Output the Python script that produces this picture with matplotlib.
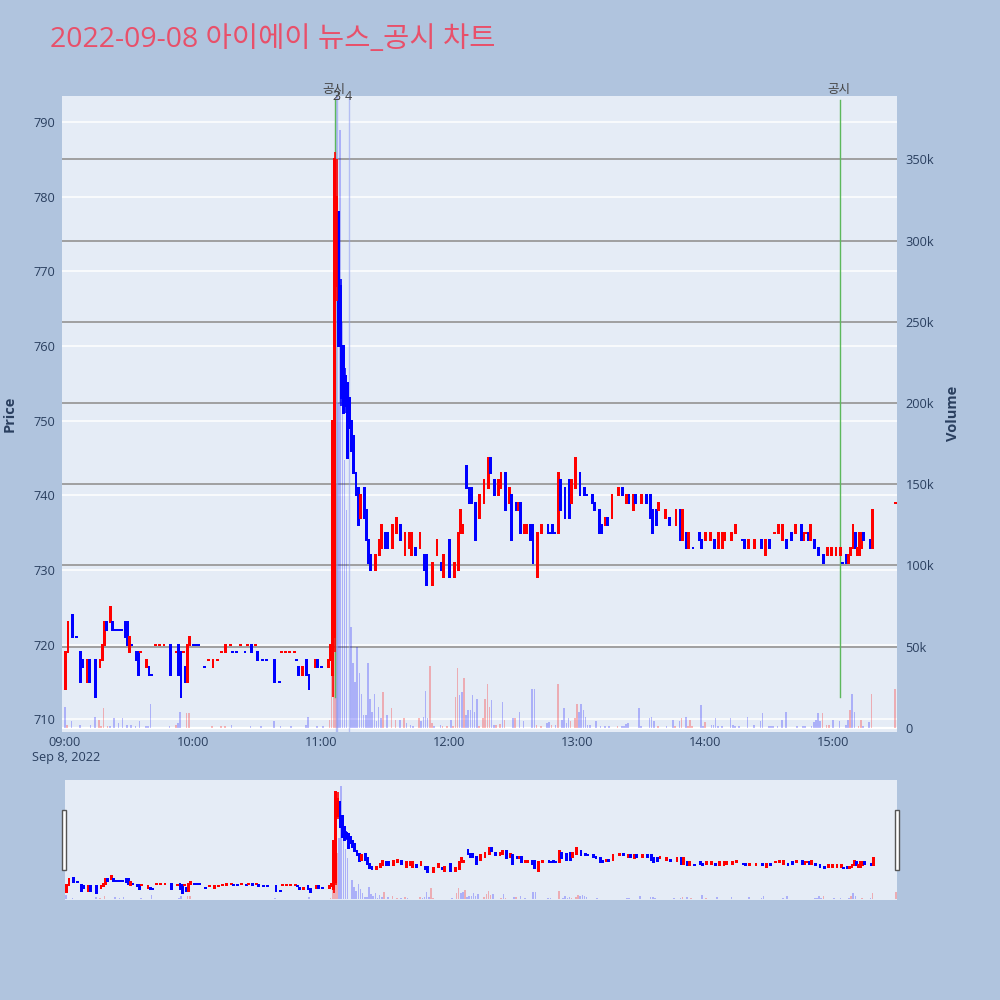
import matplotlib
matplotlib.use('Agg')
import matplotlib.pyplot as plt
from matplotlib.patches import Rectangle
from matplotlib.transforms import blended_transform_factory
import numpy as np

plt.rcParams['font.family'] = ['Open Sans', 'Noto Sans CJK KR', 'DejaVu Sans']

# ---------------- data ----------------
title = "2022-09-08 아이에이 뉴스_공시 차트"
date_label = "Sep 8, 2022"
time_tick_minutes = [0, 60, 120, 180, 240, 300, 360]
time_tick_labels = ["09:00", "10:00", "11:00", "12:00", "13:00", "14:00", "15:00"]
price_ticks = [710, 720, 730, 740, 750, 760, 770, 780, 790]
volume_ticks_k = [0, 50, 100, 150, 200, 250, 300, 350]
volume_tick_labels = ["0", "50k", "100k", "150k", "200k", "250k", "300k", "350k"]

# minutes after 09:00
minutes = [0, 1, 3, 5, 7, 8, 10, 11, 14, 16,
           17, 18, 19, 21, 22, 23, 24, 25, 26, 28,
           29, 30, 31, 33, 34, 35, 38, 39, 40, 42,
           44, 46, 49, 52, 53, 54, 55, 56, 57, 58,
           60, 61, 62, 65, 67, 69, 71, 73, 75, 77,
           78, 80, 82, 84, 85, 87, 89, 90, 92, 94,
           98, 100, 101, 103, 105, 107, 108, 109, 111, 113,
           114, 117, 118, 120, 123, 124, 125, 126, 127, 128,
           129, 130, 131, 132, 133, 134, 135, 136, 137, 138,
           140, 141, 142, 143, 145, 147, 148, 150, 151, 153,
           155, 157, 159, 161, 162, 164, 166, 168, 169, 172,
           174, 176, 177, 180, 182, 184, 185, 186, 188, 189,
           190, 192, 194, 196, 198, 199, 201, 203, 204, 206,
           208, 209, 211, 212, 213, 215, 216, 218, 219, 221,
           223, 226, 227, 228, 229, 231, 232, 234, 236, 237,
           239, 241, 243, 244, 247, 248, 250, 251, 253, 254,
           256, 259, 261, 263, 264, 266, 267, 270, 272, 274,
           275, 277, 278, 281, 283, 286, 288, 289, 291, 292,
           294, 297, 298, 300, 302, 304, 306, 308, 309, 312,
           314, 317, 318, 320, 323, 326, 328, 330, 332, 334,
           336, 338, 340, 342, 345, 346, 347, 348, 349, 351,
           353, 355, 357, 359, 361, 363, 364, 366, 367, 368,
           369, 370, 371, 372, 373, 374, 377, 378, 389]

opens = [714, 719, 724, 721, 719, 718, 715, 718, 718, 717,
         718, 720, 723, 723, 723, 722, 722, 722, 722, 723,
         723, 719, 720, 719, 719, 719, 717, 717, 716, 720,
         720, 720, 720, 719, 720, 719, 719, 717, 715, 720,
         720, 720, 720, 717, 718, 717, 718, 719, 719, 720,
         719, 719, 720, 719, 720, 720, 720, 719, 718, 718,
         718, 715, 719, 719, 719, 719, 718, 717, 716, 718,
         716, 717, 718, 717, 717, 718, 716, 721, 768, 778,
         768, 760, 756, 755, 753, 750, 748, 743, 741, 737,
         741, 738, 734, 732, 730, 732, 733, 735, 735, 733,
         735, 736, 732, 733, 732, 733, 733, 732, 732, 728,
         732, 731, 729, 734, 729, 730, 735, 735, 744, 741,
         741, 739, 737, 739, 741, 745, 742, 740, 741, 743,
         739, 740, 739, 738, 739, 735, 735, 736, 736, 729,
         735, 736, 735, 736, 735, 735, 742, 741, 742, 739,
         741, 743, 741, 740, 740, 739, 738, 736, 736, 737,
         737, 740, 741, 739, 740, 738, 740, 739, 740, 740,
         738, 738, 738, 737, 737, 736, 738, 734, 735, 733,
         733, 735, 734, 734, 734, 734, 733, 733, 734, 734,
         735, 734, 734, 733, 733, 734, 732, 734, 735, 735,
         734, 734, 735, 735, 736, 734, 735, 735, 734, 734,
         733, 732, 732, 732, 732, 732, 731, 732, 731, 732,
         733, 735, 732, 732, 733, 735, 734, 733, 739]

closes = [719, 723, 721, 721, 715, 717, 718, 715, 713, 718,
          720, 723, 722, 725, 722, 722, 722, 722, 722, 721,
          720, 721, 720, 718, 716, 719, 718, 716, 716, 720,
          720, 720, 716, 719, 716, 713, 719, 715, 720, 721,
          720, 720, 720, 717, 718, 718, 718, 719, 720, 720,
          719, 719, 720, 719, 720, 719, 720, 718, 718, 718,
          715, 715, 719, 719, 719, 719, 718, 716, 717, 716,
          714, 718, 717, 717, 718, 720, 750, 785, 780, 760,
          753, 751, 752, 745, 749, 746, 743, 740, 736, 740,
          737, 734, 731, 730, 732, 734, 736, 733, 733, 736,
          737, 734, 735, 735, 735, 732, 735, 730, 728, 731,
          734, 730, 732, 729, 731, 735, 738, 736, 741, 739,
          739, 734, 740, 742, 745, 743, 740, 742, 743, 738,
          741, 734, 738, 739, 735, 736, 736, 734, 731, 735,
          736, 735, 735, 735, 735, 743, 738, 737, 737, 742,
          745, 740, 740, 740, 739, 738, 735, 735, 737, 736,
          740, 741, 740, 740, 739, 740, 739, 740, 739, 737,
          735, 736, 739, 738, 736, 738, 734, 738, 733, 735,
          733, 734, 733, 735, 735, 733, 735, 735, 735, 735,
          736, 734, 733, 734, 734, 733, 734, 733, 735, 736,
          736, 733, 734, 736, 734, 735, 735, 734, 736, 733,
          732, 731, 733, 733, 733, 733, 731, 731, 732, 733,
          736, 733, 733, 735, 735, 734, 733, 738, 739]

# candles whose wicks reach beyond the body
wick_minutes = [125, 126, 127, 129, 131]
wick_highs = [750, 786, 785, 769, 757]
wick_lows = [713, 719, 766, 752, 751]

vol_minutes = [0, 1, 3, 7, 12, 14, 16, 17, 18, 20,
               21, 23, 25, 27, 29, 31, 33, 35, 38, 39,
               40, 49, 52, 53, 54, 57, 58, 69, 73, 75,
               78, 87, 92, 98, 101, 106, 113, 114, 118, 121,
               124, 125, 126, 127, 128, 129, 130, 131, 132, 134,
               135, 136, 137, 138, 139, 140, 141, 142, 143, 144,
               145, 146, 147, 148, 149, 151, 153, 155, 157, 159,
               160, 162, 163, 166, 167, 168, 169, 170, 171, 172,
               173, 176, 177, 179, 181, 182, 183, 184, 185, 186,
               187, 188, 189, 190, 191, 192, 193, 194, 196, 197,
               198, 199, 200, 201, 202, 204, 205, 206, 210, 211,
               213, 215, 219, 220, 221, 223, 226, 227, 228, 230,
               231, 233, 234, 235, 236, 237, 239, 240, 241, 242,
               243, 244, 245, 246, 249, 251, 253, 255, 259, 261,
               262, 263, 264, 269, 270, 274, 275, 276, 278, 282,
               285, 286, 288, 289, 291, 292, 293, 294, 298, 299,
               300, 303, 304, 305, 306, 308, 312, 313, 314, 316,
               320, 323, 326, 327, 330, 331, 332, 334, 336, 338,
               343, 346, 347, 350, 351, 352, 353, 354, 355, 357,
               358, 360, 363, 366, 367, 368, 369, 370, 372, 373,
               374, 377, 378, 389]

volumes_k = [13, 2, 4, 2, 2, 7, 5, 1, 12, 1.5,
             1.5, 6, 3, 6, 2, 2, 1.5, 4, 1, 1,
             15, 1, 2, 3, 10, 9, 9, 1, 1.5, 1.5,
             2, 1.5, 1, 4, 1, 1, 2, 7, 1.5, 1.5,
             5, 60, 250, 150, 200, 368, 250, 165, 134, 62,
             40, 28, 50, 34, 21, 8, 8, 40, 18, 10,
             21, 4, 13, 6, 22, 8, 12, 5, 5, 6,
             3, 2, 1.5, 6, 4, 7, 23, 6, 38, 3,
             1.5, 2, 1.5, 1, 5, 1, 19, 37, 20, 22,
             31, 8, 11, 11, 20, 10, 18, 1, 6, 18,
             27, 13, 17, 2, 2, 2.5, 16, 5, 6, 6,
             10, 4, 24, 24, 2, 1, 3, 3.5, 2, 2,
             27, 5, 12, 3, 6, 4, 6, 15, 10, 15,
             11, 7, 2, 2, 4, 1, 1, 1, 1, 1.5,
             1.5, 2.5, 3, 12, 1, 6, 7, 4, 1, 1,
             5, 1.5, 4, 6, 7, 1, 5, 1, 14, 1,
             3.5, 2, 2, 6, 1.5, 1.5, 6, 2, 1, 1,
             7, 2, 4, 9, 1.5, 1.5, 1, 1.5, 5, 10,
             1, 1, 1, 1.5, 3.5, 5, 9, 4, 9, 2,
             2, 5, 4, 2, 5, 11, 21, 10, 1, 5,
             1, 3.5, 21, 24]

vol_up = [0, 1, 0, 0, 0, 0, 1, 1, 1, 1,
          0, 0, 0, 0, 0, 0, 0, 0, 0, 0,
          0, 0, 1, 0, 0, 1, 1, 1, 1, 1,
          0, 0, 0, 0, 0, 0, 0, 0, 0, 0,
          1, 1, 1, 1, 0, 0, 0, 0, 0, 0,
          0, 0, 0, 0, 0, 0, 0, 0, 0, 0,
          0, 0, 0, 0, 1, 0, 1, 1, 0, 1,
          0, 0, 0, 1, 0, 0, 0, 0, 1, 1,
          0, 0, 1, 1, 0, 1, 1, 1, 0, 0,
          1, 0, 0, 0, 0, 0, 0, 1, 1, 1,
          1, 1, 0, 0, 1, 1, 0, 1, 0, 1,
          0, 0, 0, 0, 1, 1, 0, 0, 1, 0,
          1, 0, 0, 0, 0, 1, 1, 1, 0, 0,
          0, 0, 0, 0, 0, 0, 0, 0, 1, 0,
          0, 0, 0, 0, 0, 0, 0, 0, 1, 0,
          0, 1, 0, 1, 0, 1, 1, 1, 0, 0,
          1, 0, 0, 0, 0, 0, 0, 0, 0, 0,
          0, 0, 0, 0, 0, 0, 0, 0, 0, 0,
          0, 0, 0, 0, 0, 0, 0, 0, 1, 1,
          1, 0, 0, 0, 0, 1, 0, 0, 1, 1,
          0, 0, 1, 1]

disclosure_minutes = [126.6, 363.3]
disclosure_label = "공시"
news_minutes = [127.2, 127.4, 133.0]
news_labels = ["2", "3", "4"]

# ---------------- styling ----------------
W = H = 1000
BG = '#B0C4DE'
PLOT_BG = '#E5ECF6'
TXT = '#2a3f5f'
UP = '#FF0000'
DOWN = '#0000FF'
P_LIM = (708.3, 793.5)
V_LIM = (-2.5, 389)
X_LIM = (-1.4, 390)

n = min(len(minutes), len(opens), len(closes))
mins = np.array(minutes[:n], float)
o = np.array(opens[:n], float)
c = np.array(closes[:n], float)

# plotly-like direction rule (doji compares with previous close)
colors = []
inc = True
cprev = None
for oi, ci in zip(o, c):
    if ci == oi:
        if cprev is not None and ci != cprev:
            inc = ci > cprev
    else:
        inc = ci > oi
    cprev = ci
    colors.append(UP if inc else DOWN)
col_map = dict(zip(mins, colors))

vm = np.array(vol_minutes[:len(volumes_k)], float)
vv = np.array(volumes_k[:len(vm)], float)
vcol = [(1, 0, 0, 0.27) if u else (0, 0, 1, 0.25) for u in vol_up[:len(vm)]]

fig = plt.figure(figsize=(W / 100, H / 100), dpi=100)
fig.patch.set_facecolor(BG)


def draw_panel(ax_v, ax_p, xlim, px_h, full=True):
    ax_v.set_facecolor(PLOT_BG)
    ax_p.patch.set_visible(False)
    for a in (ax_v, ax_p):
        for s in a.spines.values():
            s.set_visible(False)
    ax_v.set_xlim(*xlim)
    ax_v.set_ylim(*V_LIM)
    ax_p.set_ylim(*P_LIM)
    upx = px_h / (P_LIM[1] - P_LIM[0])   # pixels per price unit
    pad = 1.0 / upx
    if full:
        tr = blended_transform_factory(ax_v.transAxes, ax_p.transData)
        for p in price_ticks:
            ax_v.plot([0, 1], [p, p], transform=tr, color='white', lw=1.1, zorder=0.5)
        for v in volume_ticks_k[1:]:
            ax_v.axhline(v, color='#9a9a9a', lw=1.3, zorder=0.6)
        ax_v.axhline(0, color='white', lw=1.6, zorder=0.7)
    ax_v.bar(vm, vv, width=0.75, color=vcol, linewidth=0, zorder=1)
    if full:
        for xm in news_minutes:
            ax_v.axvline(xm, color=(0.55, 0.6, 0.95, 0.55), lw=1.0, zorder=1.5)
        for xm in disclosure_minutes:
            ax_v.plot([xm, xm], [0.055, 0.994], color='#5cb85c', lw=1.0,
                      transform=blended_transform_factory(ax_v.transData, ax_v.transAxes),
                      zorder=1.6)
    bottoms = np.minimum(o, c) - pad
    heights = np.abs(c - o) + 2 * pad
    ax_p.bar(mins + 0.4, heights, bottom=bottoms, width=1.35, color=colors,
             linewidth=0, zorder=3)
    wcols = [col_map.get(float(m), UP) for m in wick_minutes]
    ax_p.vlines(np.array(wick_minutes) + 0.4, wick_lows, wick_highs, colors=wcols,
                lw=1.2, zorder=3)


# main panel
ax_v = fig.add_axes([62 / W, 1 - 732 / H, (897 - 62) / W, (732 - 96) / H])
ax_p = ax_v.twinx()
draw_panel(ax_v, ax_p, X_LIM, 636, full=True)

ax_v.yaxis.tick_right()
ax_v.set_yticks(volume_ticks_k)
ax_v.set_yticklabels(volume_tick_labels)
ax_p.yaxis.tick_left()
ax_p.set_yticks(price_ticks)
ax_p.set_yticklabels([str(p) for p in price_ticks])
ax_v.set_xticks(time_tick_minutes)
ax_v.set_xticklabels(time_tick_labels)
ax_v.tick_params(axis='x', length=0, pad=3, labelsize=9.2, labelcolor=TXT)
ax_v.tick_params(axis='y', length=0, pad=6, labelsize=9.2, labelcolor=TXT)
ax_p.tick_params(axis='y', length=0, pad=5, labelsize=9.2, labelcolor=TXT)
ax_v.grid(False)
ax_p.grid(False)

# range slider panel
ax_sv = fig.add_axes([65 / W, 1 - 900 / H, (897 - 65) / W, 120 / H])
ax_sp = ax_sv.twinx()
draw_panel(ax_sv, ax_sp, (-0.5, 389.5), 120, full=False)
for a in (ax_sv, ax_sp):
    a.set_xticks([])
    a.set_yticks([])

for xh in (62, 895):
    fig.patches.append(Rectangle((xh / W, 1 - 870 / H), 4 / W, 60 / H,
                                 transform=fig.transFigure, facecolor='white',
                                 edgecolor='#555555', lw=1.0, zorder=5))

# texts
fig.text(50 / W, 1 - 40 / H, title, color='#E8506A', fontsize=20.5,
         ha='left', va='center')
fig.text(66 / W, 1 - 758 / H, date_label, color=TXT, fontsize=9.2, ha='center', va='center')
fig.text(10 / W, 1 - 414 / H, "Price", color=TXT, fontsize=10.5, fontweight='bold',
         rotation=90, ha='center', va='center')
fig.text(953 / W, 1 - 413 / H, "Volume", color=TXT, fontsize=10.5, fontweight='bold',
         rotation=90, ha='center', va='center')

tr_top = blended_transform_factory(ax_v.transData, fig.transFigure)
for xm in disclosure_minutes:
    ax_v.text(xm - 0.6, 1 - 90 / H, disclosure_label, transform=tr_top, color='#444444',
              fontsize=9, ha='center', va='center', clip_on=False)
for xm, lab in zip(news_minutes, news_labels):
    ax_v.text(xm, 1 - 97 / H, lab, transform=tr_top, color='#444444',
              fontsize=9, ha='center', va='center', clip_on=False)

fig.savefig('out.png', dpi=100, facecolor=BG)
